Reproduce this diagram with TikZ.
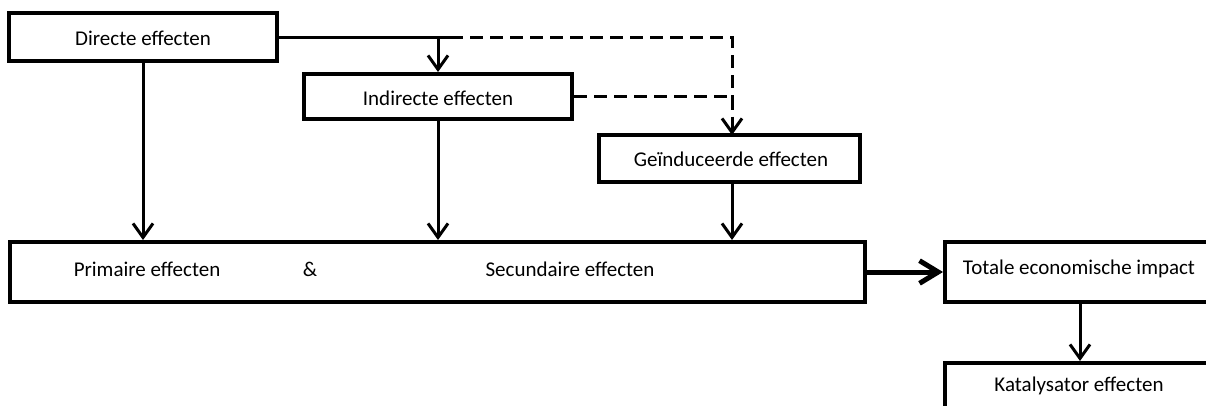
\documentclass[tikz,border=0pt]{standalone}
\usepackage{fontspec}
\setmainfont{Carlito}
\usetikzlibrary{arrows.meta,calc}
\begin{document}
\begin{tikzpicture}[x=0.75pt,y=-0.75pt,
  box/.style={draw=black,line width=3pt,minimum width=#1,inner sep=0pt},
  lbl/.style={inner sep=0pt,font=\fontsize{15.75pt}{18pt}\selectfont},
  conn/.style={line width=2.25pt},
  arr/.style={conn,-{Straight Barb[length=10.5pt,width=15pt,line width=2.25pt]}},
  dsh/.style={conn,dash pattern=on 10pt off 5pt},
  thick arr/.style={line width=3.75pt,-{Straight Barb[length=14pt,width=17pt,line width=3.75pt]}}]
\useasboundingbox (0,0) rectangle (1206,405);
% boxes
\node[box=201pt,minimum height=36pt] (dir) at (143,37) {};
\node[box=201pt,minimum height=33.75pt] (ind) at (438,96.5) {};
\node[box=195.75pt,minimum height=35.25pt] (ger) at (729.5,158.5) {};
\node[box=641.25pt,minimum height=45pt] (big) at (437.5,272) {};
\node[box=202.5pt,minimum height=45pt] (tot) at (1080,272) {};
\node[box=202.5pt,minimum height=37.5pt] (kat) at (1080,388) {};
% labels
\node[lbl] (tdir) at (143,38) {Directe effecten};
\node[lbl] (tind) at (438,98) {Indirecte effecten};
\node[lbl] (tger) at (731,159) {Geïnduceerde effecten};
\node[lbl] (tpri) at (147,269) {Primaire effecten};
\node[lbl] (tamp) at (310,269) {\&};
\node[lbl] (tsec) at (570,269) {Secundaire effecten};
\node[lbl] (ttot) at (1079,269) {Totale economische impact};
\node[lbl] (tkat) at (1079,386) {Katalysator effecten};
% connectors
\coordinate (j1) at (dir.east -| ind.north);
\coordinate (j2) at ($(j1)+(12,0)$);
\coordinate (j3) at (732,37);
\coordinate (j4) at (732,96.5);
\coordinate (g1) at (732,135);
\draw[conn] (dir.east) -- (j2);
\draw[arr] (j1) -- (ind.north);
\draw[dsh] (j2) -- (j3) -- (j4);
\draw[dsh,-{Straight Barb[length=10.5pt,width=15pt,line width=2.25pt]}] (j4) -- (g1);
\draw[dsh] (ind.east) -- (j4);
\draw[arr] (dir.south) -- (dir.south |- big.north);
\draw[arr] (ind.south) -- (ind.south |- big.north);
\draw[arr] (g1 |- ger.south) -- (g1 |- big.north);
\draw[thick arr] (big.east) -- (tot.west);
\draw[arr] (tot.south) -- (kat.north);
\end{tikzpicture}
\end{document}
